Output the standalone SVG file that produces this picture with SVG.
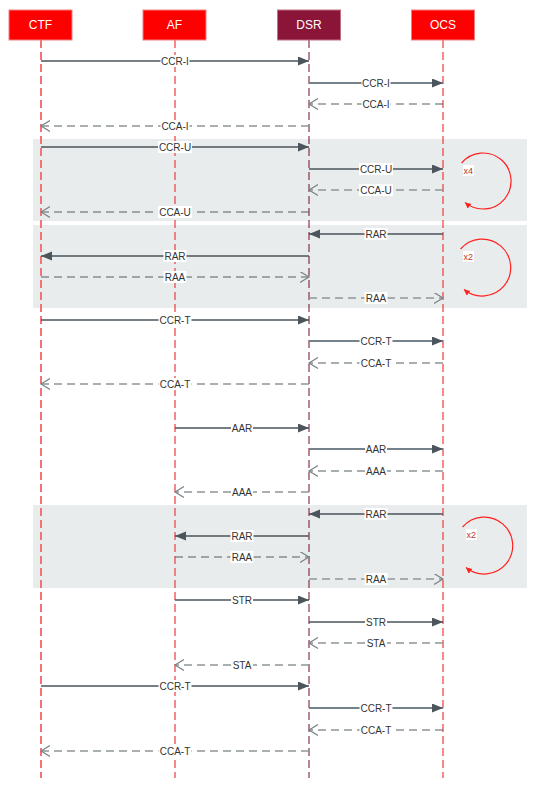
<svg xmlns="http://www.w3.org/2000/svg" width="537" height="790" viewBox="0 0 537 790">
<style>
.hdr{fill:#ff0000;stroke:#f08080;stroke-width:1}
.hdrd{fill:#8b1538;stroke:#c07080;stroke-width:1}
.ht{font-family:"Liberation Sans",Arial,sans-serif;font-size:12px;fill:#ffffff;text-anchor:middle}
.life{stroke:#ee3b3b;stroke-width:1.2;stroke-dasharray:8,4;fill:none}
.lifec{stroke:#f27474;stroke-width:2;stroke-dasharray:8,4;fill:none}
.lifed{stroke:#6e0c2c;stroke-width:1;stroke-dasharray:8,4;fill:none}
.grp{fill:#e9ecec}
.s{stroke:#4b555b;stroke-width:1.3;fill:none;marker-end:url(#tri)}
.s2{stroke:#76828a;stroke-width:1.8;fill:none;marker-end:url(#tri)}
.d{stroke:#8e9599;stroke-width:1.6;stroke-dasharray:8,5;fill:none;marker-end:url(#chev)}
.d2{stroke:#555e63;stroke-width:1.2;stroke-dasharray:8,5;fill:none;marker-end:url(#chev)}
.lb{fill:#ffffff}
.lt{font-family:"Liberation Sans",Arial,sans-serif;font-size:10px;fill:#333333;text-anchor:middle}
.loop{stroke:#ff2020;stroke-width:1.2;fill:none;marker-end:url(#rtri)}
.xt{font-family:"Liberation Sans",Arial,sans-serif;font-size:9px;fill:#c0392b}
</style>
<defs>
<marker id="tri" markerUnits="userSpaceOnUse" markerWidth="12" markerHeight="10" refX="11" refY="4.5" orient="auto">
<path d="M0,0 L11,4.5 L0,9 z" fill="#4b555b"/>
</marker>
<marker id="chev" markerUnits="userSpaceOnUse" markerWidth="12" markerHeight="12" refX="9" refY="5.5" orient="auto">
<path d="M0,0 L9,5.5 L0,11" fill="none" stroke="#7a8388" stroke-width="1.2"/>
</marker>
<marker id="rtri" markerUnits="userSpaceOnUse" markerWidth="8" markerHeight="8" refX="6" refY="3" orient="auto">
<path d="M0,0 L6,3 L0,6 z" fill="#ff2020"/>
</marker>
</defs>
<rect width="537" height="790" fill="#ffffff"/>
<g id="groups">
<rect class="grp" x="33" y="139" width="494" height="82"/>
<rect class="grp" x="33" y="225" width="494" height="83"/>
<rect class="grp" x="33" y="505" width="494" height="83"/>
</g>
<g id="lifelines">
<line class="lifec" x1="41" y1="40" x2="41" y2="778"/>
<line class="life" x1="175" y1="40" x2="175" y2="778"/>
<line class="lifed" x1="309" y1="40" x2="309" y2="778"/>
<line class="life" x1="443" y1="40" x2="443" y2="778"/>
</g>
<g id="CTF"><rect class="hdr" x="9" y="10" width="63" height="30"/><text class="ht" x="40.5" y="29">CTF</text></g>
<g id="AF"><rect class="hdr" x="143" y="10" width="63" height="30"/><text class="ht" x="174.5" y="29">AF</text></g>
<g id="DSR"><rect class="hdrd" x="277.5" y="10" width="63" height="30"/><text class="ht" x="309" y="29">DSR</text></g>
<g id="OCS"><rect class="hdr" x="411.5" y="10" width="63" height="30"/><text class="ht" x="443" y="29">OCS</text></g>
<g id="connectors">
<line class="s" x1="41" y1="61" x2="309" y2="61"/>
<line class="s2" x1="309" y1="83" x2="443" y2="83"/>
<line class="d2" x1="443" y1="104" x2="309" y2="104"/>
<line class="d" x1="309" y1="126" x2="41" y2="126"/>
<line class="s" x1="41" y1="147" x2="309" y2="147"/>
<line class="s" x1="309" y1="169" x2="443" y2="169"/>
<line class="d" x1="443" y1="190" x2="309" y2="190"/>
<line class="d2" x1="309" y1="212" x2="41" y2="212"/>
<line class="s" x1="443" y1="234" x2="309" y2="234"/>
<line class="s" x1="309" y1="256" x2="41" y2="256"/>
<line class="d2" x1="41" y1="277" x2="309" y2="277"/>
<line class="d" x1="309" y1="298" x2="443" y2="298"/>
<line class="s" x1="41" y1="320" x2="309" y2="320"/>
<line class="s2" x1="309" y1="341" x2="443" y2="341"/>
<line class="d2" x1="443" y1="363" x2="309" y2="363"/>
<line class="d" x1="309" y1="384" x2="41" y2="384"/>
<line class="s" x1="175" y1="428" x2="309" y2="428"/>
<line class="s2" x1="309" y1="449" x2="443" y2="449"/>
<line class="d2" x1="443" y1="471" x2="309" y2="471"/>
<line class="d" x1="309" y1="492" x2="175" y2="492"/>
<line class="s" x1="443" y1="514" x2="309" y2="514"/>
<line class="s" x1="309" y1="536" x2="175" y2="536"/>
<line class="d2" x1="175" y1="557" x2="309" y2="557"/>
<line class="d" x1="309" y1="579" x2="443" y2="579"/>
<line class="s" x1="175" y1="600" x2="309" y2="600"/>
<line class="s" x1="309" y1="622" x2="443" y2="622"/>
<line class="d" x1="443" y1="643" x2="309" y2="643"/>
<line class="d" x1="309" y1="665" x2="175" y2="665"/>
<line class="s" x1="41" y1="686" x2="309" y2="686"/>
<line class="s2" x1="309" y1="708" x2="443" y2="708"/>
<line class="d2" x1="443" y1="730" x2="309" y2="730"/>
<line class="d" x1="309" y1="751" x2="41" y2="751"/>
<path class="loop" d="M461.6,163 A28,28 0 1 1 465,202.4"/>
<path class="loop" d="M460.6,249 A28.5,28.5 0 1 1 464,289.5"/>
<path class="loop" d="M462.6,527 A28.5,28.5 0 1 1 466,567.5"/>
</g>
<g id="labels">
<rect class="lb" x="160.5" y="55" width="29" height="12"/><text class="lt" x="175" y="64.5">CCR-I</text>
<rect class="lb" x="361.5" y="77" width="29" height="12"/><text class="lt" x="376" y="86.5">CCR-I</text>
<rect class="lb" x="361.5" y="98" width="29" height="12"/><text class="lt" x="376" y="107.5">CCA-I</text>
<rect class="lb" x="160.5" y="120" width="29" height="12"/><text class="lt" x="175" y="129.5">CCA-I</text>
<rect class="lb" x="158" y="141" width="34" height="12"/><text class="lt" x="175" y="150.5">CCR-U</text>
<rect class="lb" x="359" y="163" width="34" height="12"/><text class="lt" x="376" y="172.5">CCR-U</text>
<rect class="lb" x="359" y="184" width="34" height="12"/><text class="lt" x="376" y="193.5">CCA-U</text>
<rect class="lb" x="158" y="206" width="34" height="12"/><text class="lt" x="175" y="215.5">CCA-U</text>
<rect class="lb" x="364.5" y="228" width="23" height="12"/><text class="lt" x="376" y="237.5">RAR</text>
<rect class="lb" x="163.5" y="250" width="23" height="12"/><text class="lt" x="175" y="259.5">RAR</text>
<rect class="lb" x="163.5" y="271" width="23" height="12"/><text class="lt" x="175" y="280.5">RAA</text>
<rect class="lb" x="364.5" y="292" width="23" height="12"/><text class="lt" x="376" y="301.5">RAA</text>
<rect class="lb" x="158.5" y="314" width="33" height="12"/><text class="lt" x="175" y="323.5">CCR-T</text>
<rect class="lb" x="359.5" y="335" width="33" height="12"/><text class="lt" x="376" y="344.5">CCR-T</text>
<rect class="lb" x="359.5" y="357" width="33" height="12"/><text class="lt" x="376" y="366.5">CCA-T</text>
<rect class="lb" x="158.5" y="378" width="33" height="12"/><text class="lt" x="175" y="387.5">CCA-T</text>
<rect class="lb" x="231" y="422" width="22" height="12"/><text class="lt" x="242" y="431.5">AAR</text>
<rect class="lb" x="365" y="443" width="22" height="12"/><text class="lt" x="376" y="452.5">AAR</text>
<rect class="lb" x="365" y="465" width="22" height="12"/><text class="lt" x="376" y="474.5">AAA</text>
<rect class="lb" x="231" y="486" width="22" height="12"/><text class="lt" x="242" y="495.5">AAA</text>
<rect class="lb" x="364.5" y="508" width="23" height="12"/><text class="lt" x="376" y="517.5">RAR</text>
<rect class="lb" x="230.5" y="530" width="23" height="12"/><text class="lt" x="242" y="539.5">RAR</text>
<rect class="lb" x="230.5" y="551" width="23" height="12"/><text class="lt" x="242" y="560.5">RAA</text>
<rect class="lb" x="364.5" y="573" width="23" height="12"/><text class="lt" x="376" y="582.5">RAA</text>
<rect class="lb" x="231" y="594" width="22" height="12"/><text class="lt" x="242" y="603.5">STR</text>
<rect class="lb" x="365" y="616" width="22" height="12"/><text class="lt" x="376" y="625.5">STR</text>
<rect class="lb" x="365" y="637" width="22" height="12"/><text class="lt" x="376" y="646.5">STA</text>
<rect class="lb" x="231" y="659" width="22" height="12"/><text class="lt" x="242" y="668.5">STA</text>
<rect class="lb" x="158.5" y="680" width="33" height="12"/><text class="lt" x="175" y="689.5">CCR-T</text>
<rect class="lb" x="359.5" y="702" width="33" height="12"/><text class="lt" x="376" y="711.5">CCR-T</text>
<rect class="lb" x="359.5" y="724" width="33" height="12"/><text class="lt" x="376" y="733.5">CCA-T</text>
<rect class="lb" x="158.5" y="745" width="33" height="12"/><text class="lt" x="175" y="754.5">CCA-T</text>
<rect class="lb" x="463" y="165" width="11" height="11"/><text class="xt" x="463.5" y="174">x4</text>
<rect class="lb" x="463" y="251" width="11" height="11"/><text class="xt" x="463.5" y="260">x2</text>
<rect class="lb" x="466" y="529" width="11" height="11"/><text class="xt" x="466.5" y="538">x2</text>
</g>
</svg>
